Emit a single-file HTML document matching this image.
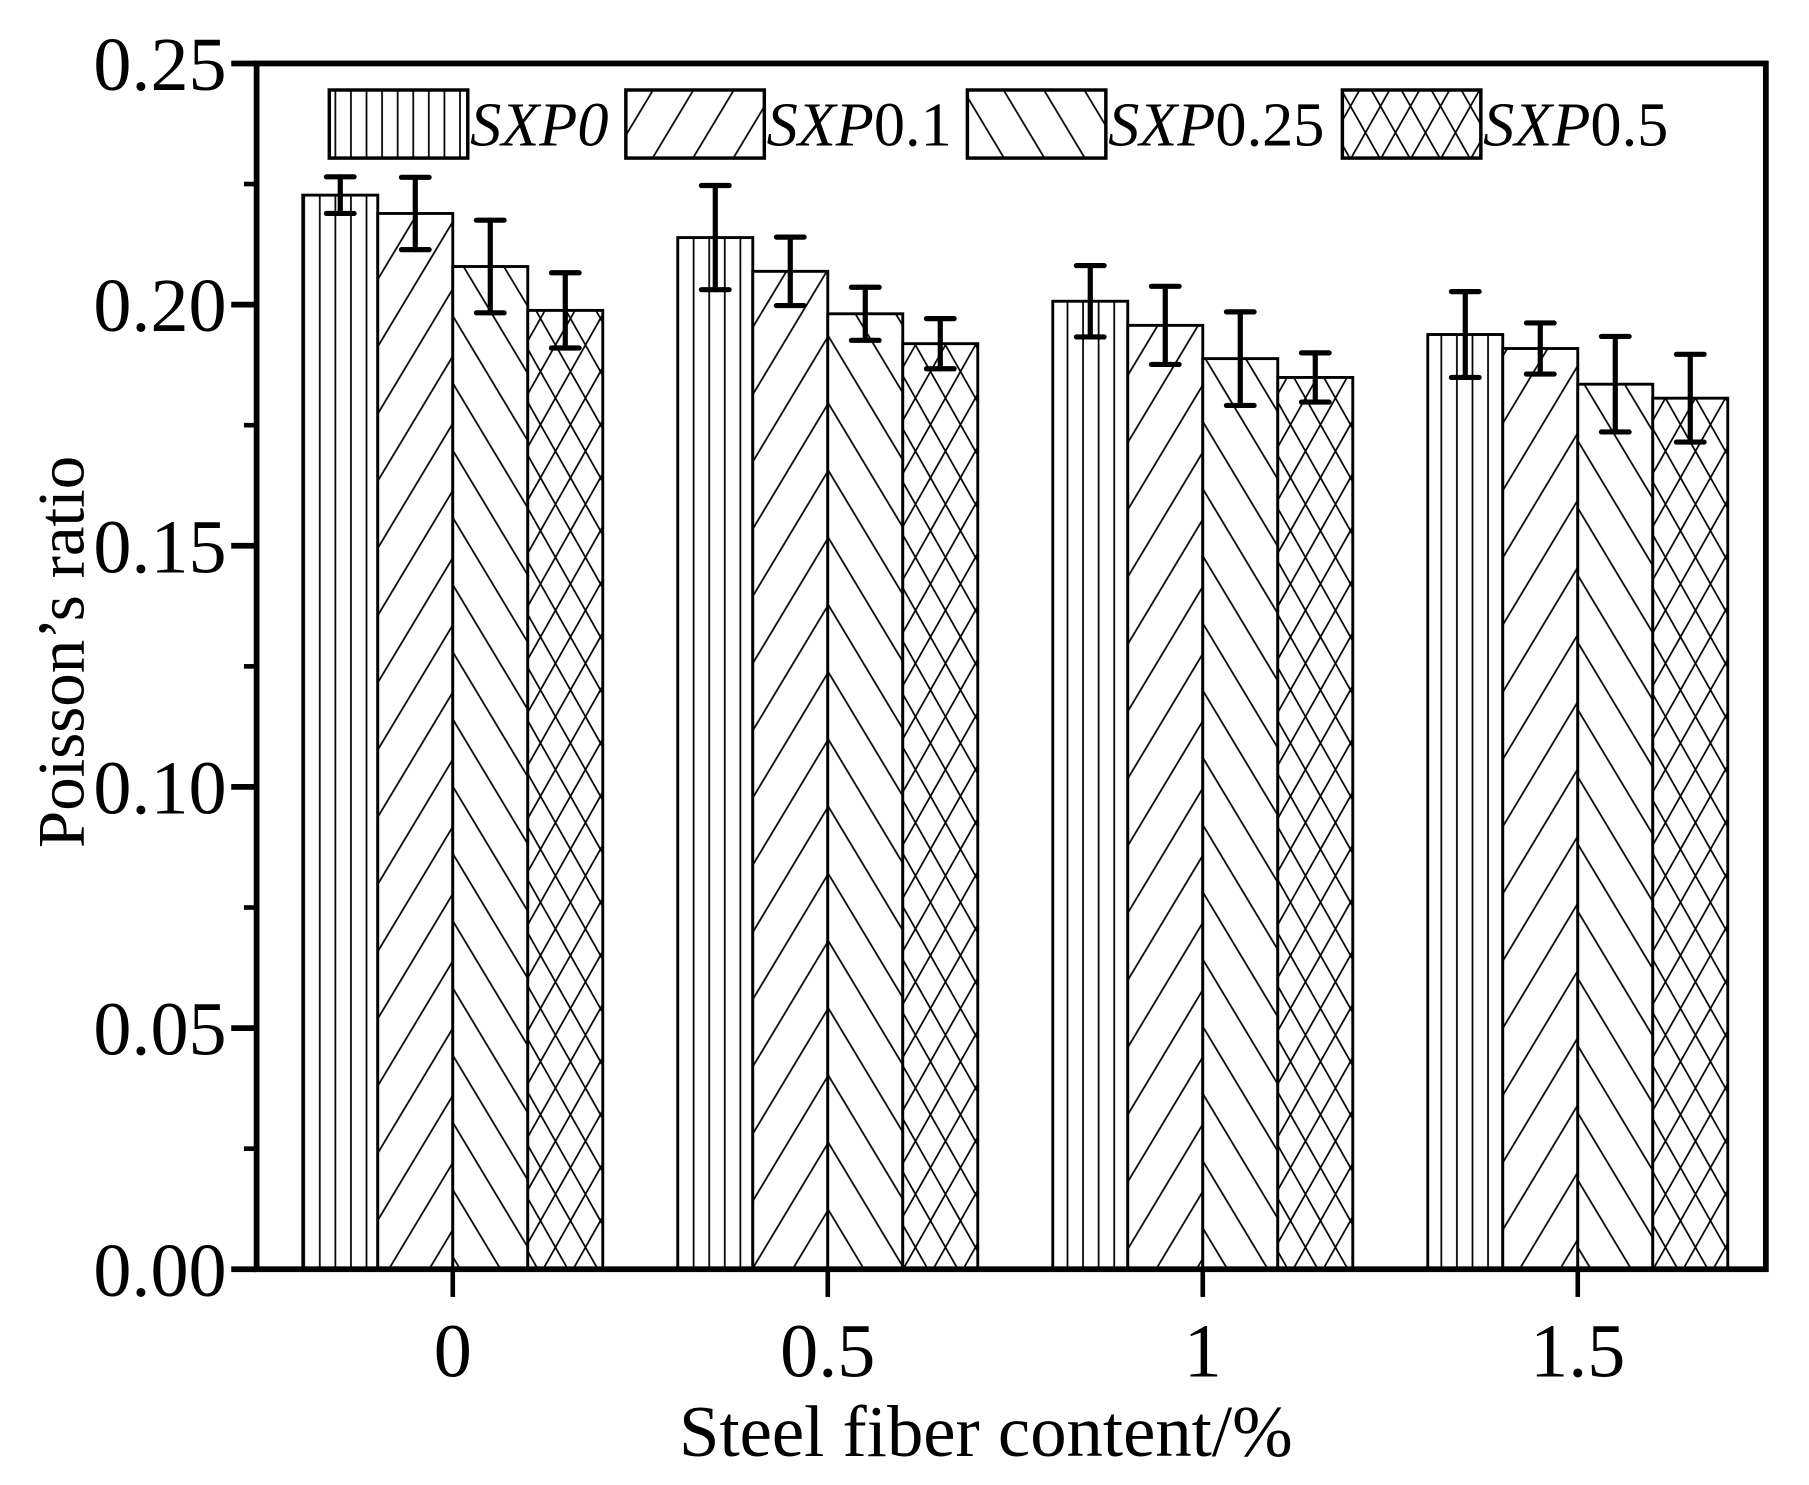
<!DOCTYPE html>
<html><head><meta charset="utf-8">
<style>html,body{margin:0;padding:0;background:#fff}svg{display:block}</style>
</head><body>
<svg id="chart" width="1809" height="1485" viewBox="0 0 1567 1287" xmlns="http://www.w3.org/2000/svg" font-family="'Liberation Serif', serif">
<defs>
<pattern id="p-vert" patternUnits="userSpaceOnUse" width="13.5" height="20"><rect width="13.5" height="20" fill="#fff"/><line x1="6.75" y1="0" x2="6.75" y2="20" stroke="#000" stroke-width="1.5"/></pattern>
<pattern id="p-fwd" patternUnits="userSpaceOnUse" width="30" height="30" patternTransform="rotate(31)"><rect width="30" height="30" fill="#fff"/><line x1="0" y1="15" x2="30" y2="15" stroke="#000" stroke-width="1.5" transform="rotate(-90 15 15)"/></pattern>
<pattern id="p-back" patternUnits="userSpaceOnUse" width="30" height="30" patternTransform="rotate(-31)"><rect width="30" height="30" fill="#fff"/><line x1="15" y1="0" x2="15" y2="30" stroke="#000" stroke-width="1.5"/></pattern>
<pattern id="p-cross" patternUnits="userSpaceOnUse" width="26" height="46"><rect width="26" height="46" fill="#fff"/><line x1="0" y1="0" x2="26" y2="46" stroke="#000" stroke-width="1.5"/><line x1="26" y1="0" x2="0" y2="46" stroke="#000" stroke-width="1.5"/></pattern>
</defs>
<g id="plot"></g>
<text x="0" y="0" font-size="58" text-anchor="middle" transform="translate(72,565) rotate(-90)">Poisson’s ratio</text>
<text x="854" y="1262" font-size="63" text-anchor="middle">Steel fiber content/%</text>
</svg>
<script>
const categories = ["0", "0.5", "1", "1.5"];
const seriesNames = ["SXP0", "SXP0.1", "SXP0.25", "SXP0.5"];
const sxp0 = [0.2227, 0.2139, 0.2007, 0.1938];
const sxp01 = [0.2189, 0.2069, 0.1957, 0.1909];
const sxp025 = [0.2079, 0.1981, 0.1888, 0.1835];
const sxp05 = [0.1988, 0.1919, 0.1849, 0.1806];
const err0 = [0.0038, 0.0108, 0.0074, 0.0089];
const err01 = [0.0075, 0.0071, 0.0081, 0.0053];
const err025 = [0.0096, 0.0055, 0.0097, 0.0099];
const err05 = [0.0078, 0.0052, 0.0051, 0.0091];
const yTicks = ["0.00", "0.05", "0.10", "0.15", "0.20", "0.25"];

const NS = "http://www.w3.org/2000/svg";
const g = document.getElementById('plot');
const L = 222, R = 1530, T = 55, B = 1100;
const yMax = 0.25;
function yScale(v) { return B - (v / yMax) * (B - T); }
const groupStep = 325;
function xCenter(i) { return 392 + i * groupStep; }
const barW = 65;
const series = [sxp0, sxp01, sxp025, sxp05];
const errs = [err0, err01, err025, err05];
const fills = ["url(#p-vert)", "url(#p-fwd)", "url(#p-back)", "url(#p-cross)"];
function mk(tag, attrs) { const e = document.createElementNS(NS, tag); for (const k in attrs) e.setAttribute(k, attrs[k]); g.appendChild(e); return e; }

series.forEach((vals, s) => {
  vals.forEach((v, i) => {
    const x = xCenter(i) - 2 * barW + s * barW;
    const r = mk('rect', {x: x, y: yScale(v), width: barW, height: B - yScale(v), fill: fills[s], stroke: '#000', 'stroke-width': 2.5});
    
    
  });
});
series.forEach((vals, s) => {
  vals.forEach((v, i) => {
    const cx = xCenter(i) - 2 * barW + s * barW + barW / 2;
    const e = errs[s][i];
    const y1 = yScale(v + e), y2 = yScale(v - e);
    const eg = document.createElementNS(NS, 'g');
    
    
    g.appendChild(eg);
    [[cx, y1, cx, y2], [cx - 12, y1, cx + 12, y1], [cx - 12, y2, cx + 12, y2]].forEach(c => {
      const l = document.createElementNS(NS, 'line');
      l.setAttribute('x1', c[0]); l.setAttribute('y1', c[1]); l.setAttribute('x2', c[2]); l.setAttribute('y2', c[3]);
      l.setAttribute('stroke', '#000'); l.setAttribute('stroke-width', 4.5); l.setAttribute('stroke-linecap', 'round');
      eg.appendChild(l);
    });
  });
});
const fr = mk('rect', {x: L, y: T, width: R - L, height: B - T, fill: 'none', stroke: '#000', 'stroke-width': 5});


yTicks.forEach((t, i) => {
  const v = parseFloat(t);
  const y = yScale(v);
  mk('line', {x1: L - 22, y1: y, x2: L, y2: y, stroke: '#000', 'stroke-width': 5});
  if (i < yTicks.length - 1) {
    const ym = yScale(v + 0.025);
    mk('line', {x1: L - 11, y1: ym, x2: L, y2: ym, stroke: '#000', 'stroke-width': 4});
  }
  const tx = mk('text', {x: 196, y: y + 23, 'font-size': 66, 'text-anchor': 'end'});
  tx.textContent = t;
  
  
});
categories.forEach((c, i) => {
  const x = xCenter(i);
  mk('line', {x1: x, y1: B, x2: x, y2: B + 24, stroke: '#000', 'stroke-width': 4});
  const tx = mk('text', {x: x, y: 1193, 'font-size': 66, 'text-anchor': 'middle'});
  tx.textContent = c;
  
  
});
const legX = [285, 542, 838, 1163];
seriesNames.forEach((n, s) => {
  const r = mk('rect', {x: legX[s], y: 78, width: 120, height: 59, fill: fills[s], stroke: '#000', 'stroke-width': 3});
  
  
  const tx = mk('text', {x: legX[s] + 122, y: 126, 'font-size': 54});
  
  
  const it = document.createElementNS(NS, 'tspan');
  it.setAttribute('font-style', 'italic');
  it.textContent = s === 0 ? 'SXP0' : 'SXP';
  tx.appendChild(it);
  if (s > 0) { const t2 = document.createElementNS(NS, 'tspan'); t2.textContent = n.slice(3); tx.appendChild(t2); }
});
</script>
</body></html>
